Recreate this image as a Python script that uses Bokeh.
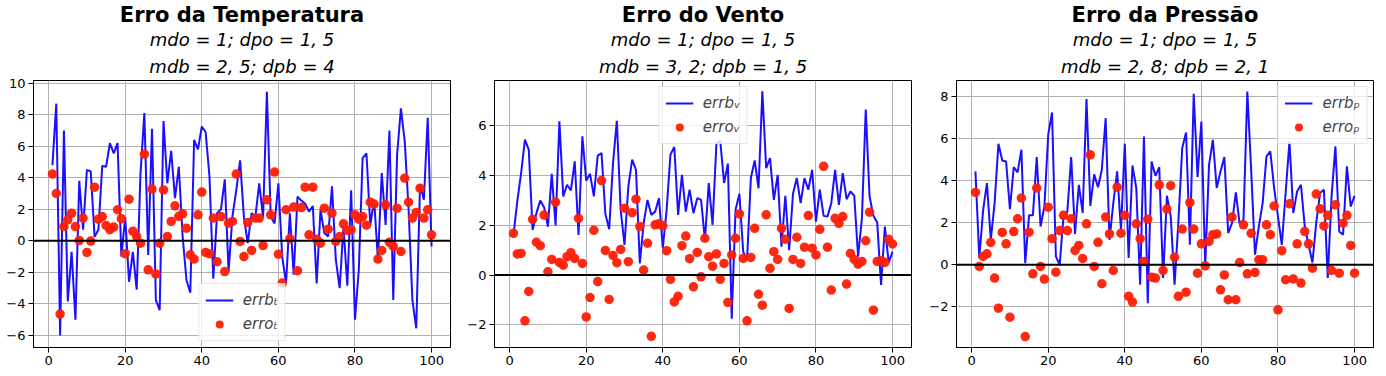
from bokeh.plotting import figure
from bokeh.layouts import row
from bokeh.models import Title, Span, FixedTicker, Range1d, Legend, LegendItem
from bokeh.embed import file_html
from bokeh.resources import INLINE

x = list(range(1, 101))

errb_t = [4.8, 8.7, -6.0, 7.0, -3.85, -0.7, -5.0, 3.8, 0.7, 4.5,
          4.4, 0.25, 0.7, 4.75, 4.7, 6.2, 5.55, 6.2, -1.0, 1.5,
          -2.6, -0.7, -3.1, 4.3, 8.1, -0.9, 7.1, -3.75, -4.4, 7.6,
          3.65, 5.7, 2.7, 4.7, 0.27, -2.5, -3.3, 6.4, 5.8, 7.25,
          6.9, 4.1, -2.4, 1.75, 2.0, 3.9, -1.95, 1.55, 3.2, 5.1,
          1.5, -0.15, 1.75, 1.55, 3.65, 1.5, 9.45, 1.55, 1.1, 3.65,
          -1.0, -2.7, 1.75, -2.15, 2.8, 2.55, 2.35, 1.85, 2.2, -2.7,
          1.97, 0.49, 0.27, 3.45, -1.2, -3.0, 0.9, -2.85, 3.2, -5.0,
          -1.85, 5.25, 5.55, 1.0, 2.6, -1.2, 4.3, 1.0, 7.0, -3.75,
          5.45, 8.4, 6.3, 2.0, -3.75, -5.55, 3.55, 2.6, 7.8, -0.36]
erro_t = [4.23, 3.0, -4.65, 0.9, 1.33, 1.75, 0.9, 0.02, 1.44, -0.74,
          -0.02, 3.4, 1.37, 1.54, 0.97, 0.7, 0.87, 1.97, 1.4, -0.82,
          2.64, 0.61, 0.27, -0.15, 5.5, -1.84, 3.28, -2.1, -0.15, 3.23,
          0.27, 1.23, 2.22, 1.55, 1.71, 0.8, -0.89, -1.16, 1.65, 3.09,
          -0.74, -0.82, 1.44, -1.33, 1.54, -1.95, 1.12, 1.23, 4.23, -0.04,
          -1.0, 1.16, -0.61, 1.44, 1.44, -0.3, 2.6, 1.65, 4.36, -0.85,
          -2.68, 1.97, 0.13, 2.14, -1.9, 2.11, 3.4, 0.38, 3.4, 0.1,
          -0.15, 2.07, 0.74, 1.75, -0.04, 0.27, 1.08, 0.66, 0.7, 1.65,
          1.37, 1.54, 0.99, 2.45, 2.33, -1.16, -0.61, 2.28, -0.1, -0.36,
          2.07, -0.68, 3.97, 2.45, 1.44, 1.8, 3.34, 1.44, 1.97, 0.38]

errb_v = [1.61, 2.96, 4.1, 5.44, 5.04, 1.81, 2.49, 3.0, 2.73, 1.95,
          4.07, 2.0, 6.18, 3.16, 3.63, 3.4, 4.57, 1.61, 5.58, 3.79,
          4.07, 3.16, 4.8, 4.9, 2.46, 1.84, 4.5, 6.2, 2.62, 1.21,
          3.56, 4.64, 4.23, 0.47, 2.08, 3.02, 2.42, 2.55, 3.09, 1.08,
          2.62, 4.84, 5.15, 2.42, 4.03, 2.55, 3.43, 2.49, 3.09, 3.02,
          1.41, 3.7, 2.02, 5.28, 5.4, 3.7, 4.48, -1.75, 2.62, 3.27,
          0.94, 0.6, 3.9, 4.61, 3.49, 7.39, 4.3, 4.7, 3.02, 4.03,
          1.14, 3.19, 1.0, 3.27, 3.9, 2.89, 3.9, 3.43, 4.23, 2.15,
          3.43, 2.38, 2.35, 2.89, 4.23, 2.82, 4.1, 3.05, 3.36, 3.19,
          0.74, 2.28, 6.65, 3.16, 2.38, 2.11, -0.4, 1.95, 0.5, 0.94]
erro_v = [1.68, 0.85, 0.87, -1.84, -0.66, 2.24, 1.32, 1.18, 2.41, 0.13,
          0.63, 2.93, 0.51, 0.4, 0.74, 0.9, 0.67, 2.28, 0.47, -1.68,
          -0.9, 1.8, -0.26, 3.8, 0.99, -0.98, 0.79, 0.5, 1.03, 2.69,
          0.54, 2.51, 3.05, 1.95, 0.2, 1.28, -2.46, 2.02, 2.06, 1.98,
          0.98, -0.17, -1.08, -0.85, 1.18, 1.57, 0.66, -0.47, 0.91, -0.07,
          1.48, 0.74, 0.36, 0.85, -0.17, 0.47, -1.1, 0.81, 1.48, 2.46,
          0.67, -1.84, 0.71, 1.88, -0.77, -1.21, 2.42, 0.27, 0.94, 0.63,
          1.88, 1.44, -1.34, 0.63, 1.52, 0.47, 1.12, 2.39, 1.08, 0.81,
          1.84, 4.37, 1.12, -0.6, 2.28, 2.08, 2.35, -0.36, 0.87, 0.63,
          0.44, 0.55, 1.38, 2.53, -1.41, 0.55, 0.58, 0.51, 1.44, 1.25]

errb_p = [4.44, 0.32, 2.6, 3.88, 1.19, 2.93, 5.75, 4.96, 4.91, 2.65,
          4.64, 4.39, 5.47, 0.08, 2.36, 2.35, 5.12, 1.82, 2.77, 6.18,
          7.24, 0.4, 0.0, 2.3, 2.54, 5.12, 1.47, 3.8, 2.46, 7.88,
          2.8, 4.3, 3.69, 4.52, 6.97, 1.19, 2.93, 4.44, 1.66, 5.75,
          0.32, 4.72, 3.65, -0.95, 6.1, -1.82, 4.91, 4.23, 4.64, -0.63,
          3.28, 2.3, -0.95, 2.06, 5.55, 6.29, 0.95, 8.13, 4.17, 6.81,
          -0.08, 4.75, 5.94, 3.65, 4.44, 5.12, 1.51, 1.98, 3.44, 1.95,
          2.14, 8.24, 4.52, 0.48, 1.82, 2.93, 5.15, 5.39, 3.65, 2.3,
          0.95, 3.41, 5.86, 2.46, 3.49, 3.8, 1.82, 0.95, 0.11, 2.0,
          3.41, 3.57, -0.63, 3.25, 5.63, 1.58, 1.43, 4.68, 2.77, 3.28]
erro_p = [3.44, -0.08, 0.4, 0.52, 1.06, -0.63, -2.06, 1.54, 1.0, -2.49,
          1.58, 2.19, 3.17, -3.41, 1.55, -0.43, 3.65, -0.08, -0.68, 2.74,
          1.24, -0.35, 1.63, 2.35, 1.63, 2.19, 0.68, 0.92, 0.3, 1.95,
          5.23, -0.08, 1.07, -0.9, 2.27, 1.47, -0.27, 3.69, 1.5, 2.35,
          -1.5, -1.77, 1.95, 1.24, 0.16, 2.17, -0.59, -0.63, 3.8, -0.27,
          2.65, 3.76, 0.36, -1.5, 1.7, -1.3, 2.96, 1.7, -0.4, 1.0,
          -0.05, 1.11, 1.43, 1.47, -1.19, -0.48, -1.66, 2.27, -1.66, 0.11,
          1.9, -0.43, 1.5, -0.36, 0.24, 0.24, 1.9, 1.43, 2.8, -2.14,
          0.67, -0.71, 2.9, -0.67, 1.0, -0.87, 1.58, 1.0, -0.16, 3.36,
          2.66, 1.85, 2.35, -0.27, 2.85, -0.4, 1.98, 2.35, 0.92, -0.4]

titles = ["Erro da Temperatura", "Erro do Vento", "Erro da Press\u00e3o"]
sub1 = ["mdo = 1; dpo = 1, 5", "mdo = 1; dpo = 1, 5", "mdo = 1; dpo = 1, 5"]
sub2 = ["mdb = 2, 5; dpb = 4", "mdb = 3, 2; dpb = 1, 5", "mdb = 2, 8; dpb = 2, 1"]
leg_line = ["errb\u209c", "errb\u1d65", "errb\u209a"]
leg_dot = ["erro\u209c", "erro\u1d65", "erro\u209a"]
x_ticks = [0, 20, 40, 60, 80, 100]
y_ticks = [[-6, -4, -2, 0, 2, 4, 6, 8, 10], [-2, 0, 2, 4, 6], [-2, 0, 2, 4, 6, 8]]
y_ranges = [(-6.77, 10.17), (-2.91, 7.82), (-3.93, 8.76)]
leg_loc = ["bottom_center", "top_center", "top_right"]
borders = [(33, 10), (34, 10), (35, 2)]

FONT = "DejaVu Sans"
LINE_COLOR = "#1a0fff"
DOT_COLOR = "#ff1e05"


def make(i, yb, yo):
    p = figure(frame_width=417, frame_height=267, output_backend="svg",
               toolbar_location=None, x_range=Range1d(-3.95, 104.95),
               y_range=Range1d(*y_ranges[i]),
               min_border_left=borders[i][0], min_border_right=borders[i][1],
               min_border_top=80, min_border_bottom=10,
               title=titles[i])
    p.title.align = "center"
    p.title.text_font = FONT
    p.title.text_font_style = "bold"
    p.title.text_font_size = "21px"
    p.title.text_color = "black"
    p.title.standoff = 0
    t3 = Title(text=sub2[i], align="center", text_font=FONT, text_font_style="italic",
               text_font_size="18px", text_color="black", standoff=8)
    t2 = Title(text=sub1[i], align="center", text_font=FONT, text_font_style="italic",
               text_font_size="18px", text_color="black", standoff=0)
    p.add_layout(t3, "above")
    p.add_layout(t2, "above")

    p.xaxis.ticker = FixedTicker(ticks=x_ticks)
    p.yaxis.ticker = FixedTicker(ticks=y_ticks[i])
    p.yaxis.major_label_overrides = {t: "\u2212" + str(-t) for t in y_ticks[i] if t < 0}
    for ax in (p.xaxis, p.yaxis):
        ax.major_label_text_font = FONT
        ax.major_label_text_font_size = "13px"
        ax.major_label_text_color = "black"
        ax.major_tick_out = 5
        ax.major_tick_in = 0
        ax.minor_tick_line_color = None
        ax.axis_line_color = "black"
        ax.major_tick_line_color = "black"
        ax.major_label_standoff = 3
    p.grid.grid_line_color = "#b0b0b0"
    p.grid.grid_line_width = 1
    p.outline_line_color = "black"
    p.outline_line_width = 1
    p.outline_line_alpha = 1

    ln = p.line(x, yb, line_color=LINE_COLOR, line_width=2)
    sc = p.scatter(x, yo, size=9.5, fill_color=DOT_COLOR, line_color=None, fill_alpha=0.95)
    p.add_layout(Span(location=0, dimension="width", line_color="black", line_width=2))

    leg = Legend(items=[LegendItem(label=leg_line[i], renderers=[ln]),
                        LegendItem(label=leg_dot[i], renderers=[sc])],
                 location=leg_loc[i])
    leg.label_text_font = FONT
    leg.label_text_font_style = "italic"
    leg.label_text_font_size = "15px"
    leg.glyph_width = 28
    leg.glyph_height = 20
    leg.label_height = 20
    leg.spacing = 4
    leg.padding = 6
    leg.margin = 6
    leg.label_standoff = 10
    leg.border_line_color = "#d0d0d0"
    leg.background_fill_alpha = 0.8
    p.add_layout(leg)
    return p


plots = [make(0, errb_t, erro_t), make(1, errb_v, erro_v), make(2, errb_p, erro_p)]
layout = row(*plots)
open("out.html", "w").write(file_html(layout, INLINE))
